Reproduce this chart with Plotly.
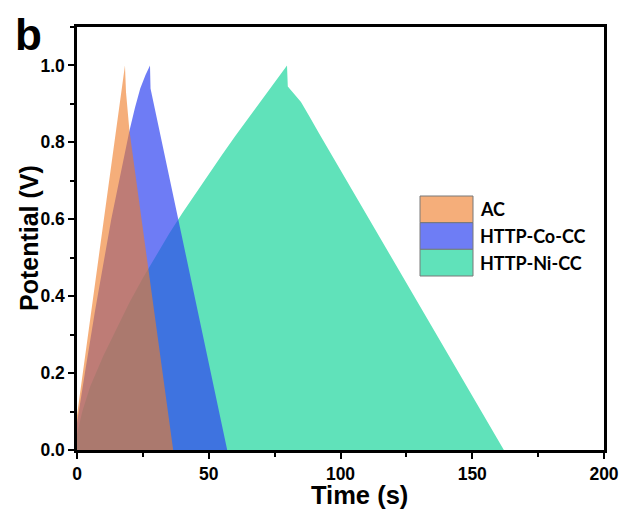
import plotly.graph_objects as go

# ---- data ----
ac_t = [0, 0, 18.2, 18.6, 19.9, 36.5]
ac_v = [0, 0.09, 1.0, 0.93, 0.83, 0.0]

co_t = [0, 0, 3.0, 6.8, 13.0, 16.6, 19.9, 22.0, 24.0, 26.0, 27.7, 27.9, 38.0, 57.0]
co_v = [0, 0.07, 0.20, 0.36, 0.60, 0.72, 0.83, 0.89, 0.94, 0.975, 1.0, 0.94, 0.615, 0.0]

ni_t = [0, 0, 2, 5, 10, 15, 20, 25, 30, 35, 40, 45, 50, 55, 60, 65, 70, 75, 79.7,
        80.0, 82.0, 85.0, 88.0, 92.0, 162.0]
ni_v = [0, 0.04, 0.10, 0.165, 0.245, 0.317, 0.385, 0.447, 0.506, 0.563, 0.616, 0.667,
        0.718, 0.767, 0.816, 0.863, 0.91, 0.955, 1.0,
        0.945, 0.93, 0.905, 0.87, 0.822, 0.0]

names = ["AC", "HTTP-Co-CC", "HTTP-Ni-CC"]
fills = ["rgba(239,124,40,0.62)", "rgba(48,69,241,0.70)", "rgb(96,226,186)"]
swatch = ["rgb(245,174,122)", "rgb(110,125,245)", "rgb(96,226,186)"]

x_ticks = [0, 50, 100, 150, 200]
y_ticks = [0.0, 0.2, 0.4, 0.6, 0.8, 1.0]

fig = go.Figure()
# draw order: green bottom, blue, orange on top
for t, v, i in [(ni_t, ni_v, 2), (co_t, co_v, 1), (ac_t, ac_v, 0)]:
    fig.add_trace(go.Scatter(x=t, y=v, mode="lines", fill="tozeroy",
                             line=dict(width=0, color=fills[i]),
                             fillcolor=fills[i], name=names[i],
                             showlegend=False, hoverinfo="skip"))

FONT = "Liberation Sans, Arial, sans-serif"
axis_common = dict(showline=True, linecolor="black", linewidth=2.5, mirror=True,
                   ticks="outside", ticklen=6, tickwidth=2, tickcolor="black",
                   showgrid=False, zeroline=False, automargin=False,
                   ticklabeloverflow="allow",
                   tickfont=dict(family=FONT, size=17.5, color="black", weight="bold"))

fig.update_xaxes(range=[0, 200], tickvals=x_ticks,
                 minor=dict(dtick=25, ticks="outside", ticklen=4, tickwidth=2, tickcolor="black"),
                 **axis_common)
fig.update_yaxes(range=[0, 1.1], tickvals=y_ticks, tickformat=".1f",
                 minor=dict(dtick=0.1, ticks="outside", ticklen=4, tickwidth=2, tickcolor="black"),
                 **axis_common)

W, H = 619, 509
L, R, T, B = 77, 15, 27, 59
pw, ph = W - L - R, H - T - B

def px(x):
    return (x - L) / pw

def py(y):
    return (H - B - y) / ph

annotations = [
    dict(text="Time (s)", x=px(359), y=py(495), xref="paper", yref="paper",
         showarrow=False, xanchor="center", yanchor="middle",
         font=dict(family=FONT, size=25.5, color="black", weight="bold")),
    dict(text="Potential (V)", x=px(29), y=py(238), xref="paper", yref="paper",
         showarrow=False, xanchor="center", yanchor="middle", textangle=-90,
         font=dict(family=FONT, size=25, color="black", weight="bold")),
    dict(text="b", x=px(13), y=py(34), xref="paper", yref="paper",
         showarrow=False, xanchor="left", yanchor="middle",
         font=dict(family=FONT, size=44, color="black", weight="bold")),
]
shapes = []
row_top = [196, 222.7, 249.3]
row_h = 26.7
for i, nm in enumerate(names):
    y0 = row_top[i]
    shapes.append(dict(type="rect", xref="paper", yref="paper",
                       x0=px(420), x1=px(473), y0=py(y0 + row_h), y1=py(y0),
                       fillcolor=swatch[i], line=dict(color="rgb(120,120,120)", width=1)))
    annotations.append(dict(text=nm, x=px(478), y=py(y0 + row_h / 2), xref="paper", yref="paper",
                            showarrow=False, xanchor="left", yanchor="middle",
                            font=dict(family="Lato, sans-serif", size=18, color="black", weight="bold")))

fig.update_layout(width=W, height=H, margin=dict(l=L, r=R, t=T, b=B, autoexpand=False),
                  plot_bgcolor="white", paper_bgcolor="white",
                  annotations=annotations, shapes=shapes, showlegend=False)

# remove the page's default 8px body margin so the figure sits at (0, 0)
fig.write_html("out.html", config={"displayModeBar": False},
               post_script="document.body.style.margin='0';document.body.style.overflow='hidden';")
